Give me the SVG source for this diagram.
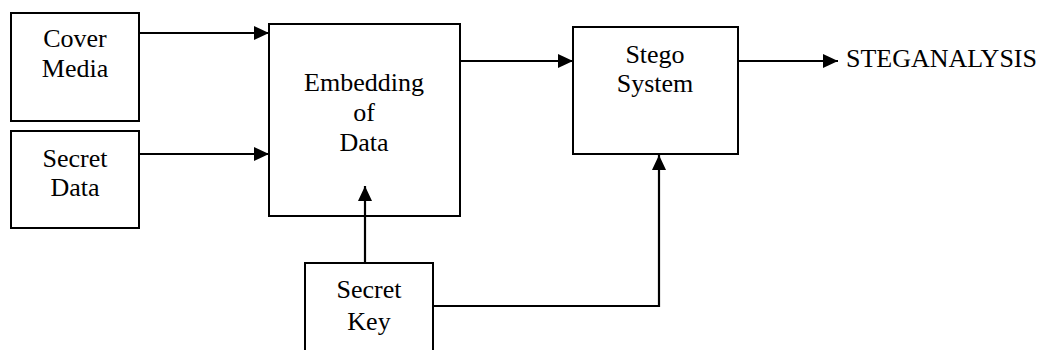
<svg xmlns="http://www.w3.org/2000/svg" width="1045" height="350" viewBox="0 0 1045 350">
<style>
.box{fill:#fff;stroke:#000;stroke-width:2}
.t{font-family:'Liberation Serif','DejaVu Serif',serif;font-size:26px;fill:#000;text-anchor:middle}
.c{fill:none;stroke:#000;stroke-width:2.2}
</style>
<defs>
<marker id="ah" markerWidth="15" markerHeight="14" refX="15" refY="7" orient="auto" markerUnits="userSpaceOnUse">
<path d="M0,0 L15,7 L0,14 Z" fill="#000"/>
</marker>
</defs>
<rect width="1045" height="350" fill="#fff"/>
<g id="cover-media">
<rect class="box" x="11" y="13" width="128" height="108"/>
<text class="t" x="75" y="47">Cover</text>
<text class="t" x="75" y="77">Media</text>
</g>
<g id="secret-data">
<rect class="box" x="11" y="131" width="128" height="97"/>
<text class="t" x="75" y="167">Secret</text>
<text class="t" x="75" y="196">Data</text>
</g>
<g id="embedding">
<rect class="box" x="269" y="24" width="191" height="192"/>
<text class="t" x="364" y="91">Embedding</text>
<text class="t" x="364" y="121">of</text>
<text class="t" x="364" y="151">Data</text>
</g>
<g id="stego-system">
<rect class="box" x="573" y="27" width="165" height="127"/>
<text class="t" x="655" y="63">Stego</text>
<text class="t" x="655" y="92">System</text>
</g>
<g id="secret-key">
<rect class="box" x="305" y="263" width="128" height="100"/>
<text class="t" x="369" y="298">Secret</text>
<text class="t" x="369" y="330">Key</text>
</g>
<g id="steganalysis">
<text class="t" x="846" y="67" style="text-anchor:start">STEGANALYSIS</text>
</g>
<g id="connectors">
<line class="c" x1="139" y1="33" x2="269" y2="33" marker-end="url(#ah)"/>
<line class="c" x1="139" y1="154" x2="269" y2="154" marker-end="url(#ah)"/>
<line class="c" x1="460" y1="61" x2="573" y2="61" marker-end="url(#ah)"/>
<line class="c" x1="738" y1="61" x2="838" y2="61" marker-end="url(#ah)"/>
<line class="c" x1="365" y1="263" x2="365" y2="186" marker-end="url(#ah)"/>
<polyline class="c" points="433,306 659,306 659,155" marker-end="url(#ah)"/>
</g>
</svg>
